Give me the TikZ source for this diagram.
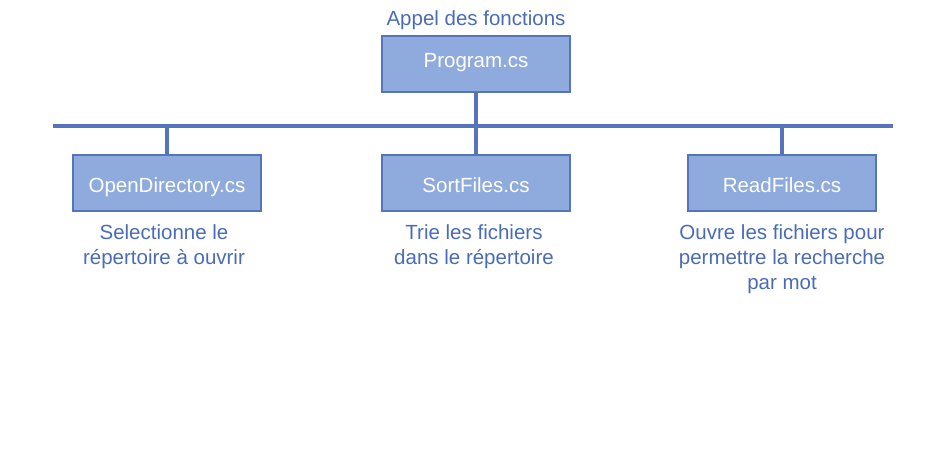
\documentclass[tikz,border=0pt]{standalone}
\usepackage{fontspec}
\setmainfont{Liberation Sans}
\definecolor{boxfill}{HTML}{8FAADC}
\definecolor{boxline}{HTML}{5673BD}
\definecolor{txtblue}{HTML}{4A6CB8}
\begin{document}
\begin{tikzpicture}[x=1pt,y=-1pt,
  fbox/.style={draw=boxline,fill=boxfill,line width=2.3pt,minimum width=188pt,minimum height=56pt,inner sep=0pt,text=white,font=\fontsize{20.5}{25}\selectfont,text height=20pt,text depth=0pt},
  topbox/.style={fbox,text height=14.8pt,text depth=8.2pt},
  lbl/.style={text=txtblue,align=center,inner sep=0pt,anchor=base,font=\fontsize{20.5}{25}\selectfont},
  conn/.style={draw=boxline,line width=3.3pt}]
\useasboundingbox (0,0) rectangle (945,457);
\node[topbox] (prog) at (476,64) {Program.cs};
\node[fbox] (od) at (167,183) {OpenDirectory.cs};
\node[fbox] (sf) at (476,183) {SortFiles.cs};
\node[fbox] (rf) at (782,183) {ReadFiles.cs};
\coordinate (busL) at (53,126);
\coordinate (busR) at (893,126);
\node[lbl] (title) at (476,25.5) {Appel des fonctions};
\node[lbl] (odl) at (164,264.5) {Selectionne le\\répertoire à ouvrir};
\node[lbl] (sfl) at (474,264.5) {Trie les fichiers\\dans le répertoire};
\node[lbl] (rfl) at (782,289.5) {Ouvre les fichiers pour\\permettre la recherche\\par mot};
\draw[conn] (busL) -- (busR);
\draw[conn] (prog.south) -- (prog.south |- busL);
\draw[conn] (od.north |- busL) -- (od.north);
\draw[conn] (sf.north |- busL) -- (sf.north);
\draw[conn] (rf.north |- busL) -- (rf.north);
\end{tikzpicture}
\end{document}
